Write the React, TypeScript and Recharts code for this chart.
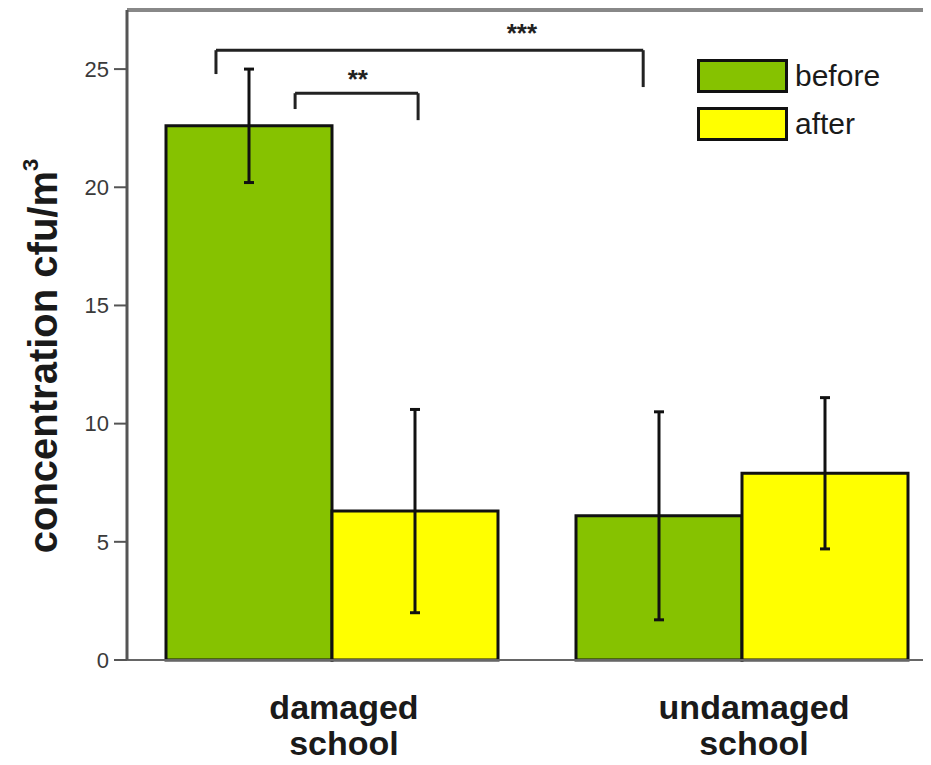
import React from 'react';
import { BarChart, Bar, XAxis, YAxis, ErrorBar, ReferenceLine, ReferenceDot, Legend } from 'recharts';

const schools = ['damaged school', 'undamaged school'];
const seriesNames = ['before', 'after'];
const beforeValues = [22.6, 6.1];
const beforeErrors = [2.4, 4.4];
const afterValues = [6.3, 7.9];
const afterErrors = [4.3, 3.2];
const yTicks = [0, 5, 10, 15, 20, 25];
const yMax = 27.5;

// group centres on a 0..2 scale, used by a hidden numeric axis for the brackets
const groupCentres = [0.5, 1.5];
const bracketStart = [0.217, 0.41];
const bracketEnd = [1.259, 0.71];
const bracketTop = [25.8, 23.98];
const bracketLegStart = [24.79, 23.31];
const bracketLegEnd = [24.24, 22.84];
const starLabels = ['***', '**'];
const starX = [0.963, 0.563];
const starY = [26.8, 24.85];

const GREEN = '#86c200';
const YELLOW = '#ffff00';
const FONT = 'Arial, "Liberation Sans", sans-serif';

const data = schools.map((name, i) => ({
    name,
    pos: groupCentres[i],
    before: beforeValues[i],
    beforeErr: beforeErrors[i],
    after: afterValues[i],
    afterErr: afterErrors[i],
}));

const SchoolTick = ({ x, y, payload }: any) => {
    const lines = String(payload.value).split(' ');
    return (
        <text x={x + 12} y={y + 51} textAnchor="middle" fontFamily={FONT} fontWeight="bold" fontSize={34} fill="#1a1a1a">
            {lines.map((l, i) => (
                <tspan key={i} x={x + 12} dy={i === 0 ? 0 : 36}>{l}</tspan>
            ))}
        </text>
    );
};

const YLabel = ({ viewBox }: any) => {
    const x = (viewBox?.x ?? 0) + 57;
    const y = (viewBox?.y ?? 10) + (viewBox?.height ?? 650) / 2 + 21;
    return (
        <text x={x} y={y} transform={`rotate(-90 ${x} ${y})`} textAnchor="middle" fontFamily={FONT} fontWeight="bold" fontSize={40} fill="#1a1a1a">
            concentration cfu/m<tspan dy={-19} fontSize={22}>3</tspan>
        </text>
    );
};

const Stars = ({ cx, cy, label }: any) => (
    <text x={cx} y={cy + 15} textAnchor="middle" fontFamily={FONT} fontWeight="bold" fontSize={26} fill="#222">{label}</text>
);

const renderLegend = (props: any) => {
    const items = [...(props.payload || [])].sort((a: any, b: any) => seriesNames.indexOf(a.value) - seriesNames.indexOf(b.value));
    return (
        <div>
            {items.map((entry: any) => (
                <div key={entry.value} style={{ display: 'flex', alignItems: 'center', height: 48 }}>
                    <span style={{ display: 'inline-block', width: 85, height: 28, background: entry.color, border: '3px solid #111', marginRight: 7 }} />
                    <span style={{ fontFamily: FONT, fontSize: 30, color: '#1a1a1a', lineHeight: '30px' }}>{entry.value}</span>
                </div>
            ))}
        </div>
    );
};

export default function App() {
    return (
        <div style={{ margin: -8, width: 931, height: 765, overflow: 'hidden', position: 'relative', background: '#fff' }}>
            <BarChart width={960} height={765} data={data} margin={{ top: 10, right: 13, left: 0, bottom: 0 }} barCategoryGap={39} barGap={0}>
                <XAxis dataKey="name" height={105} tick={<SchoolTick />} tickLine={false} axisLine={{ stroke: '#666', strokeWidth: 2 }} interval={0} />
                <XAxis xAxisId="num" dataKey="pos" type="number" domain={[0, 2]} allowDataOverflow hide />
                <YAxis
                    width={127}
                    domain={[0, yMax]}
                    ticks={yTicks}
                    tickSize={13}
                    tickMargin={5}
                    tick={{ fill: '#3a3a3a', fontSize: 22, fontFamily: FONT }}
                    tickLine={{ stroke: '#555', strokeWidth: 2 }}
                    axisLine={{ stroke: '#555', strokeWidth: 3 }}
                    label={<YLabel />}
                />
                <ReferenceLine y={yMax} stroke="#888" strokeWidth={4} />
                <Legend content={renderLegend} layout="horizontal" verticalAlign="middle" align="center" wrapperStyle={{ top: 52, left: 697, width: 'auto', height: 'auto' }} />
                <Bar dataKey="before" fill={GREEN} stroke="#111" strokeWidth={3} isAnimationActive={false}>
                    <ErrorBar dataKey="beforeErr" direction="y" width={5} stroke="#111" strokeWidth={3} />
                </Bar>
                <Bar dataKey="after" fill={YELLOW} stroke="#111" strokeWidth={3} isAnimationActive={false}>
                    <ErrorBar dataKey="afterErr" direction="y" width={5} stroke="#111" strokeWidth={3} />
                </Bar>
                {bracketStart.map((x1, i) => (
                    <ReferenceLine key={`h${i}`} xAxisId="num" segment={[{ x: x1, y: bracketTop[i] }, { x: bracketEnd[i], y: bracketTop[i] }]} stroke="#222" strokeWidth={3} />
                ))}
                {bracketStart.map((x1, i) => (
                    <ReferenceLine key={`l${i}`} xAxisId="num" segment={[{ x: x1, y: bracketTop[i] }, { x: x1, y: bracketLegStart[i] }]} stroke="#222" strokeWidth={3} />
                ))}
                {bracketEnd.map((x2, i) => (
                    <ReferenceLine key={`r${i}`} xAxisId="num" segment={[{ x: x2, y: bracketTop[i] }, { x: x2, y: bracketLegEnd[i] }]} stroke="#222" strokeWidth={3} />
                ))}
                {starLabels.map((s, i) => (
                    <ReferenceDot key={`s${i}`} xAxisId="num" x={starX[i]} y={starY[i]} r={0} shape={(p: any) => <Stars {...p} label={s} />} />
                ))}
            </BarChart>
        </div>
    );
}
